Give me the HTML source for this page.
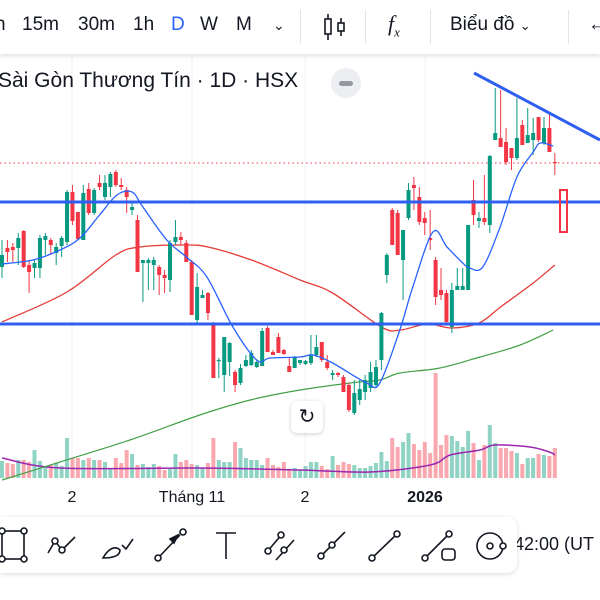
<!DOCTYPE html>
<html><head><meta charset="utf-8"><style>
body{margin:0;width:600px;height:600px;overflow:hidden;background:#fff;font-family:"Liberation Sans","Noto Sans CJK SC",sans-serif;position:relative}
.tb{position:absolute;left:0;top:0;width:600px;height:54px;background:#fff;box-shadow:0 2px 4px rgba(0,0,0,.12);z-index:3}
.tb span{position:absolute;top:14px;font-size:19px;color:#131722}
.sep{position:absolute;top:10px;width:1px;height:34px;background:#e0e3eb}
.title{position:absolute;left:-2px;top:69px;font-size:21px;color:#131722;z-index:2}
.xl{position:absolute;top:489px;font-size:16px;color:#131722;transform:translateX(-50%)}
.bt{position:absolute;left:0;top:517px;width:517px;height:56px;background:#fff;border-radius:0 10px 10px 0;box-shadow:0 1px 5px rgba(0,0,0,.15);z-index:3}
</style></head><body>
<div class="tb">
<span style="left:-5px">h</span>
<span style="left:22px">15m</span>
<span style="left:78px">30m</span>
<span style="left:133px">1h</span>
<span style="left:171px;color:#2962ff">D</span>
<span style="left:200px">W</span>
<span style="left:236px">M</span>
<span style="left:273px;font-size:14px;top:17px">⌄</span>
<div class="sep" style="left:300px"></div>
<svg style="position:absolute;left:322px;top:12px" width="26" height="30"><g stroke="#131722" stroke-width="1.6" fill="none"><line x1="6" y1="2" x2="6" y2="28"/><rect x="3" y="7" width="6" height="15" fill="#fff"/><line x1="19" y1="6" x2="19" y2="24"/><rect x="16" y="11" width="6" height="8" fill="#fff"/></g></svg>
<div class="sep" style="left:365px"></div>
<span style="left:388px;font-family:'Liberation Serif',serif;font-style:italic;font-size:22px;top:11px">f<sub style="font-size:13px">x</sub></span>
<div class="sep" style="left:430px"></div>
<span style="left:450px">Biểu đồ <small style="font-size:13px">⌄</small></span>
<div class="sep" style="left:568px"></div>
<span style="left:588px">←</span>
</div>
<div class="title">Sài Gòn Thương Tín · 1D · HSX</div>
<div style="position:absolute;left:331px;top:68px;width:30px;height:30px;border-radius:50%;background:#eceef2;z-index:2"><div style="position:absolute;left:8px;top:13px;width:14px;height:5px;border-radius:3px;background:#9598a1"></div></div>
<svg id="ch" width="600" height="600" style="position:absolute;left:0;top:0"></svg>
<div style="position:absolute;left:291px;top:401px;width:32px;height:32px;background:#fff;border-radius:6px;box-shadow:0 1px 4px rgba(0,0,0,.2);font-size:20px;text-align:center;line-height:32px;color:#131722">↻</div>
<div class="xl" style="left:72px">2</div>
<div class="xl" style="left:192px">Tháng 11</div>
<div class="xl" style="left:305px">2</div>
<div class="xl" style="left:425px;font-weight:bold">2026</div>
<div class="bt">
<svg width="517" height="56" stroke="#131722" stroke-width="1.6" fill="none">
<g><rect x="2" y="14" width="22" height="28"/><circle cx="2" cy="14" r="3" fill="#fff"/><circle cx="24" cy="14" r="3" fill="#fff"/><circle cx="2" cy="42" r="3" fill="#fff"/><circle cx="24" cy="42" r="3" fill="#fff"/></g>
<g><polyline points="48,36 55,24 62,33 75,20"/><circle cx="55" cy="24" r="3" fill="#fff"/><circle cx="62" cy="33" r="3" fill="#fff"/></g>
<g><path d="M103,41 C108,32 115,28 120,33 C120,40 110,41 103,41 Z M122,28 L126,32 L133,22"/></g>
<g><line x1="158" y1="41" x2="180" y2="18"/><circle cx="158" cy="41" r="3" fill="#fff"/><polygon points="178,18 170,22 174,26" fill="#131722"/><circle cx="183" cy="15" r="3" fill="#fff"/></g>
<g><line x1="216" y1="16" x2="236" y2="16"/><line x1="226" y1="16" x2="226" y2="42"/></g>
<g><line x1="266" y1="36" x2="283" y2="16"/><line x1="276" y1="43" x2="294" y2="23"/><circle cx="268" cy="34" r="3" fill="#fff"/><circle cx="281" cy="18" r="3" fill="#fff"/><circle cx="284" cy="33" r="3" fill="#fff"/></g>
<g><line x1="319" y1="41" x2="345" y2="15"/><circle cx="321" cy="39" r="3" fill="#fff"/><circle cx="332" cy="28" r="3" fill="#fff"/></g>
<g><line x1="372" y1="41" x2="397" y2="17"/><circle cx="372" cy="41" r="3" fill="#fff"/><circle cx="397" cy="17" r="3" fill="#fff"/></g>
<g><line x1="425" y1="41" x2="449" y2="17"/><circle cx="425" cy="41" r="3" fill="#fff"/><circle cx="449" cy="17" r="3" fill="#fff"/><rect x="442" y="32" width="13" height="11" rx="3"/></g>
<g><circle cx="490" cy="29" r="13"/><circle cx="490" cy="29" r="3"/><circle cx="503" cy="29" r="3" fill="#fff"/></g>
</svg></div>
<div style="position:absolute;left:514px;top:534px;font-size:18px;color:#131722">42:00 (UT</div>
<script>
const opens=[33.3,35.2,35.3,35.2,36.9,33.5,33.2,33.2,36,36,34.7,35.4,35.8,40.8,38.8,36,41.1,38.7,41.7,40.3,41.3,42.8,41.5,41,39,38,33.7,33.7,33.5,33.3,32.5,32,35.8,36.3,35.7,33.8,28,30.2,30.7,27.7,24,22.5,23.8,22.8,21.7,23.4,23.5,23.3,23.4,27.2,24.8,26.3,25,23.4,23.2,23.7,23.6,23.7,24.5,25.8,23.8,22.5,22.7,22.3,21.5,18.7,20,20.8,21.2,21.5,24,32.5,39,38.7,34,38.2,41.5,40.3,38.2,36.2,34,31,30.7,27.3,31,31,31,40,37.9,38.2,37.5,46,46.2,45.8,45.2,44.2,47.5,45.7,46,48.3,45.7,47.2,43.8];
const highs=[36,36,35.7,36.7,37,34,34,36.5,36.7,36.2,35.7,36.4,41,41.5,38.8,41.5,41.7,41.2,42.5,42.5,42.8,43,42.2,41.3,39.7,38.5,34,34.2,34.3,33.5,33,36,38,36.8,36,34,32.7,31,30.8,27.8,24.2,26.3,25.8,23,23.6,24.5,25,24,27.2,27.4,25,26.7,25.1,24.2,24.4,24,24,26.5,26.5,25.8,24.5,23,22.8,22.5,21.7,22,22,22.5,23.8,24,28.8,34.7,39.2,39,37,41.7,42.3,41.3,38.8,39,34.3,33.2,31,31.7,33.2,33.2,37.5,42,38.8,42.5,44.5,51.2,51,47.2,45.2,50.2,48,49.2,48.2,48.3,48.3,48.7,44.7];
const lows=[32.2,33.8,33.8,33.5,33.2,30.7,32.2,32.2,34.5,34.5,33.5,34.3,35.5,37.5,36,36,38.5,38.5,41,40,40.3,41.3,41,38.7,38.5,32.8,29.8,31,31,30.5,30.7,30.8,35.5,35.5,33.8,28.5,27.7,30.2,28,22.2,22.2,20.8,22.4,20.8,21.5,23.3,23.4,23.2,23.4,24.8,24.5,24.7,24.5,22.8,23.2,23.5,23.5,23.5,24.3,23.8,23,22,22.3,20.8,18.8,18.5,19.5,20,20.8,21.3,23,31.7,35.5,34.5,30,38,39,37.5,36.5,35,29.5,30,27.7,26.7,31,31,31,37.5,37.2,37.5,36.7,46,45.3,43.5,43,44,45.5,45.7,44.5,45.8,45.5,44.8,42.5];
const closes=[34.5,34.8,35,36.2,33.3,32.8,33.7,36.2,36.4,35.5,35.3,36.2,40.8,37.9,36.1,40.7,38.7,41,41.3,41.7,42.6,41.5,41.3,40.3,39.3,32.8,34,34,34,32.5,32.2,35.7,36.3,36,33.8,28.5,31.3,30.5,28.7,22.2,24,26.3,25.7,21.5,23.2,24,24.7,23.8,26.9,24.8,24.5,24.7,24.6,22.8,24.3,24,23.9,24.5,25.3,24,23.2,22.7,22.5,20.8,19,20.7,21.1,22,22.8,23.3,28.7,34.5,35.5,34.5,37,41,41.2,37.8,37.7,36,30.3,30.5,27.8,31,31.4,31.4,37.5,38.5,38.2,37.8,44.4,46.7,45.3,43.8,44.2,46.2,45.5,46.5,46.7,46,47.2,44.8,43.7];
const volumes=[17,15,14,18,18,16,28,17,12,13,15,12,40,20,20,18,20,18,18,16,9,20,15,28,24,13,14,11,14,12,8,9,24,16,18,14,13,10,15,40,18,16,16,36,30,20,18,18,13,20,13,11,16,9,10,8,12,16,16,12,9,22,13,16,14,13,10,10,12,15,26,17,40,31,36,45,34,28,36,25,105,33,43,42,37,31,47,35,18,33,53,35,30,30,27,25,14,20,20,24,23,22,30];
const ma10Idx=[0,5.7,10.7,14.4,18,21.2,24,26,30.4,34,37.8,42.6,47,49.5,55,57.4,61,67.3,69.7,73.4,75.8,79.5,82.1,85,86.3,88.7,91.9,95,98,99.3,101.7];
const ma10Val=[33.6,34,35,36.2,38.5,40.5,40.8,39.3,36,34.3,32.3,27.3,24,24.2,24.3,24.5,23.7,21.7,21.7,27,31.3,36.8,35.3,33.7,33.2,33.3,37.3,42.3,44.8,45.7,45.4];
const ma50Idx=[0,12,21,25.5,33.5,38,46,55,61,70,73.5,78.5,83,88,92,98,102];
const ma50Val=[27.8,30.8,34.5,35.3,35.5,35.3,34,32,30.7,27.3,27,27.6,27.2,27.7,29.3,31.7,33.5];
const ma200Idx=[0,10.7,23.6,36.5,45.8,55,64.2,69.7,73.4,80.8,88.2,95.6,101.7];
const ma200Val=[12,13.8,16,18.5,20,21,21.7,22,22.7,23.2,24.3,25.5,27];
const volMaIdx=[0,10.7,36.5,55,67.9,79,82.7,88.2,91,97.4,101,102];
const volMaVal=[20,10,10,8,6,13,23,28,33,31,26,23];
const levels=[39.8,27.6];
const lastPrice=43.7;

const NS='http://www.w3.org/2000/svg';
const svg=document.getElementById('ch');
const xS=i=>2+i*5.42;
const yS=p=>600-10*p;
const vS=v=>478-v;
function mk(t,a,parent){const e=document.createElementNS(NS,t);for(const k in a)e.setAttribute(k,a[k]);(parent||svg).appendChild(e);return e;}
[72,192,305,425].forEach(x=>{const g=mk('line',{x1:x,y1:55,x2:x,y2:480,stroke:'#f0f2f5','stroke-width':1});

});
volumes.forEach((v,i)=>{const up=closes[i]>=opens[i];
const r=mk('rect',{x:xS(i)-2,y:vS(v),width:4,height:v,fill:up?'#8fd3c4':'#f8a8ae'});

});
function line(idx,val,f,color,w,name){
const pts=idx.map((t,k)=>[xS(t),f(val[k])]);
let d='M'+pts[0][0].toFixed(1)+','+pts[0][1].toFixed(1);
for(let k=0;k<pts.length-1;k++){const p0=pts[Math.max(0,k-1)],p1=pts[k],p2=pts[k+1],p3=pts[Math.min(pts.length-1,k+2)];
const c1=[p1[0]+(p2[0]-p0[0])/6,p1[1]+(p2[1]-p0[1])/6],c2=[p2[0]-(p3[0]-p1[0])/6,p2[1]-(p3[1]-p1[1])/6];
d+='C'+c1.map(n=>n.toFixed(1)).join(',')+' '+c2.map(n=>n.toFixed(1)).join(',')+' '+p2.map(n=>n.toFixed(1)).join(',');}
const p=mk('path',{d:d,fill:'none',stroke:color,'stroke-width':w,'stroke-linejoin':'round'});

}
line(volMaIdx,volMaVal,vS,'#9c27b0',1.5,'volume-ma-line');
line(ma200Idx,ma200Val,yS,'#43a047',1.2,'ma200-line');
line(ma50Idx,ma50Val,yS,'#e53935',1.3,'ma50-line');
const lp=mk('line',{x1:0,y1:yS(lastPrice),x2:600,y2:yS(lastPrice),stroke:'#f23645','stroke-width':1,'stroke-dasharray':'1.5,3'});


opens.forEach((o,i)=>{const c=closes[i],up=c>=o,col=up?'#089981':'#f23645',x=xS(i);
const w=mk('line',{x1:x,y1:yS(highs[i]),x2:x,y2:yS(lows[i]),stroke:col,'stroke-width':1});


const top=yS(Math.max(o,c)),h=Math.max(1.2,Math.abs(o-c)*10);
const b=mk('rect',{x:x-2,y:top,width:4,height:h,fill:col});

});
line(ma10Idx,ma10Val,yS,'#2962ff',1.3,'ma10-line');
levels.forEach(l=>{const e=mk('line',{x1:0,y1:yS(l),x2:600,y2:yS(l),stroke:'#2f5ff0','stroke-width':3});

});
const tl=mk('line',{x1:474,y1:73,x2:600,y2:140,stroke:'#2f5ff0','stroke-width':3});


const hb=mk('rect',{x:560,y:190,width:7,height:42,fill:'none',stroke:'#f23645','stroke-width':2});


</script>
</body></html>
